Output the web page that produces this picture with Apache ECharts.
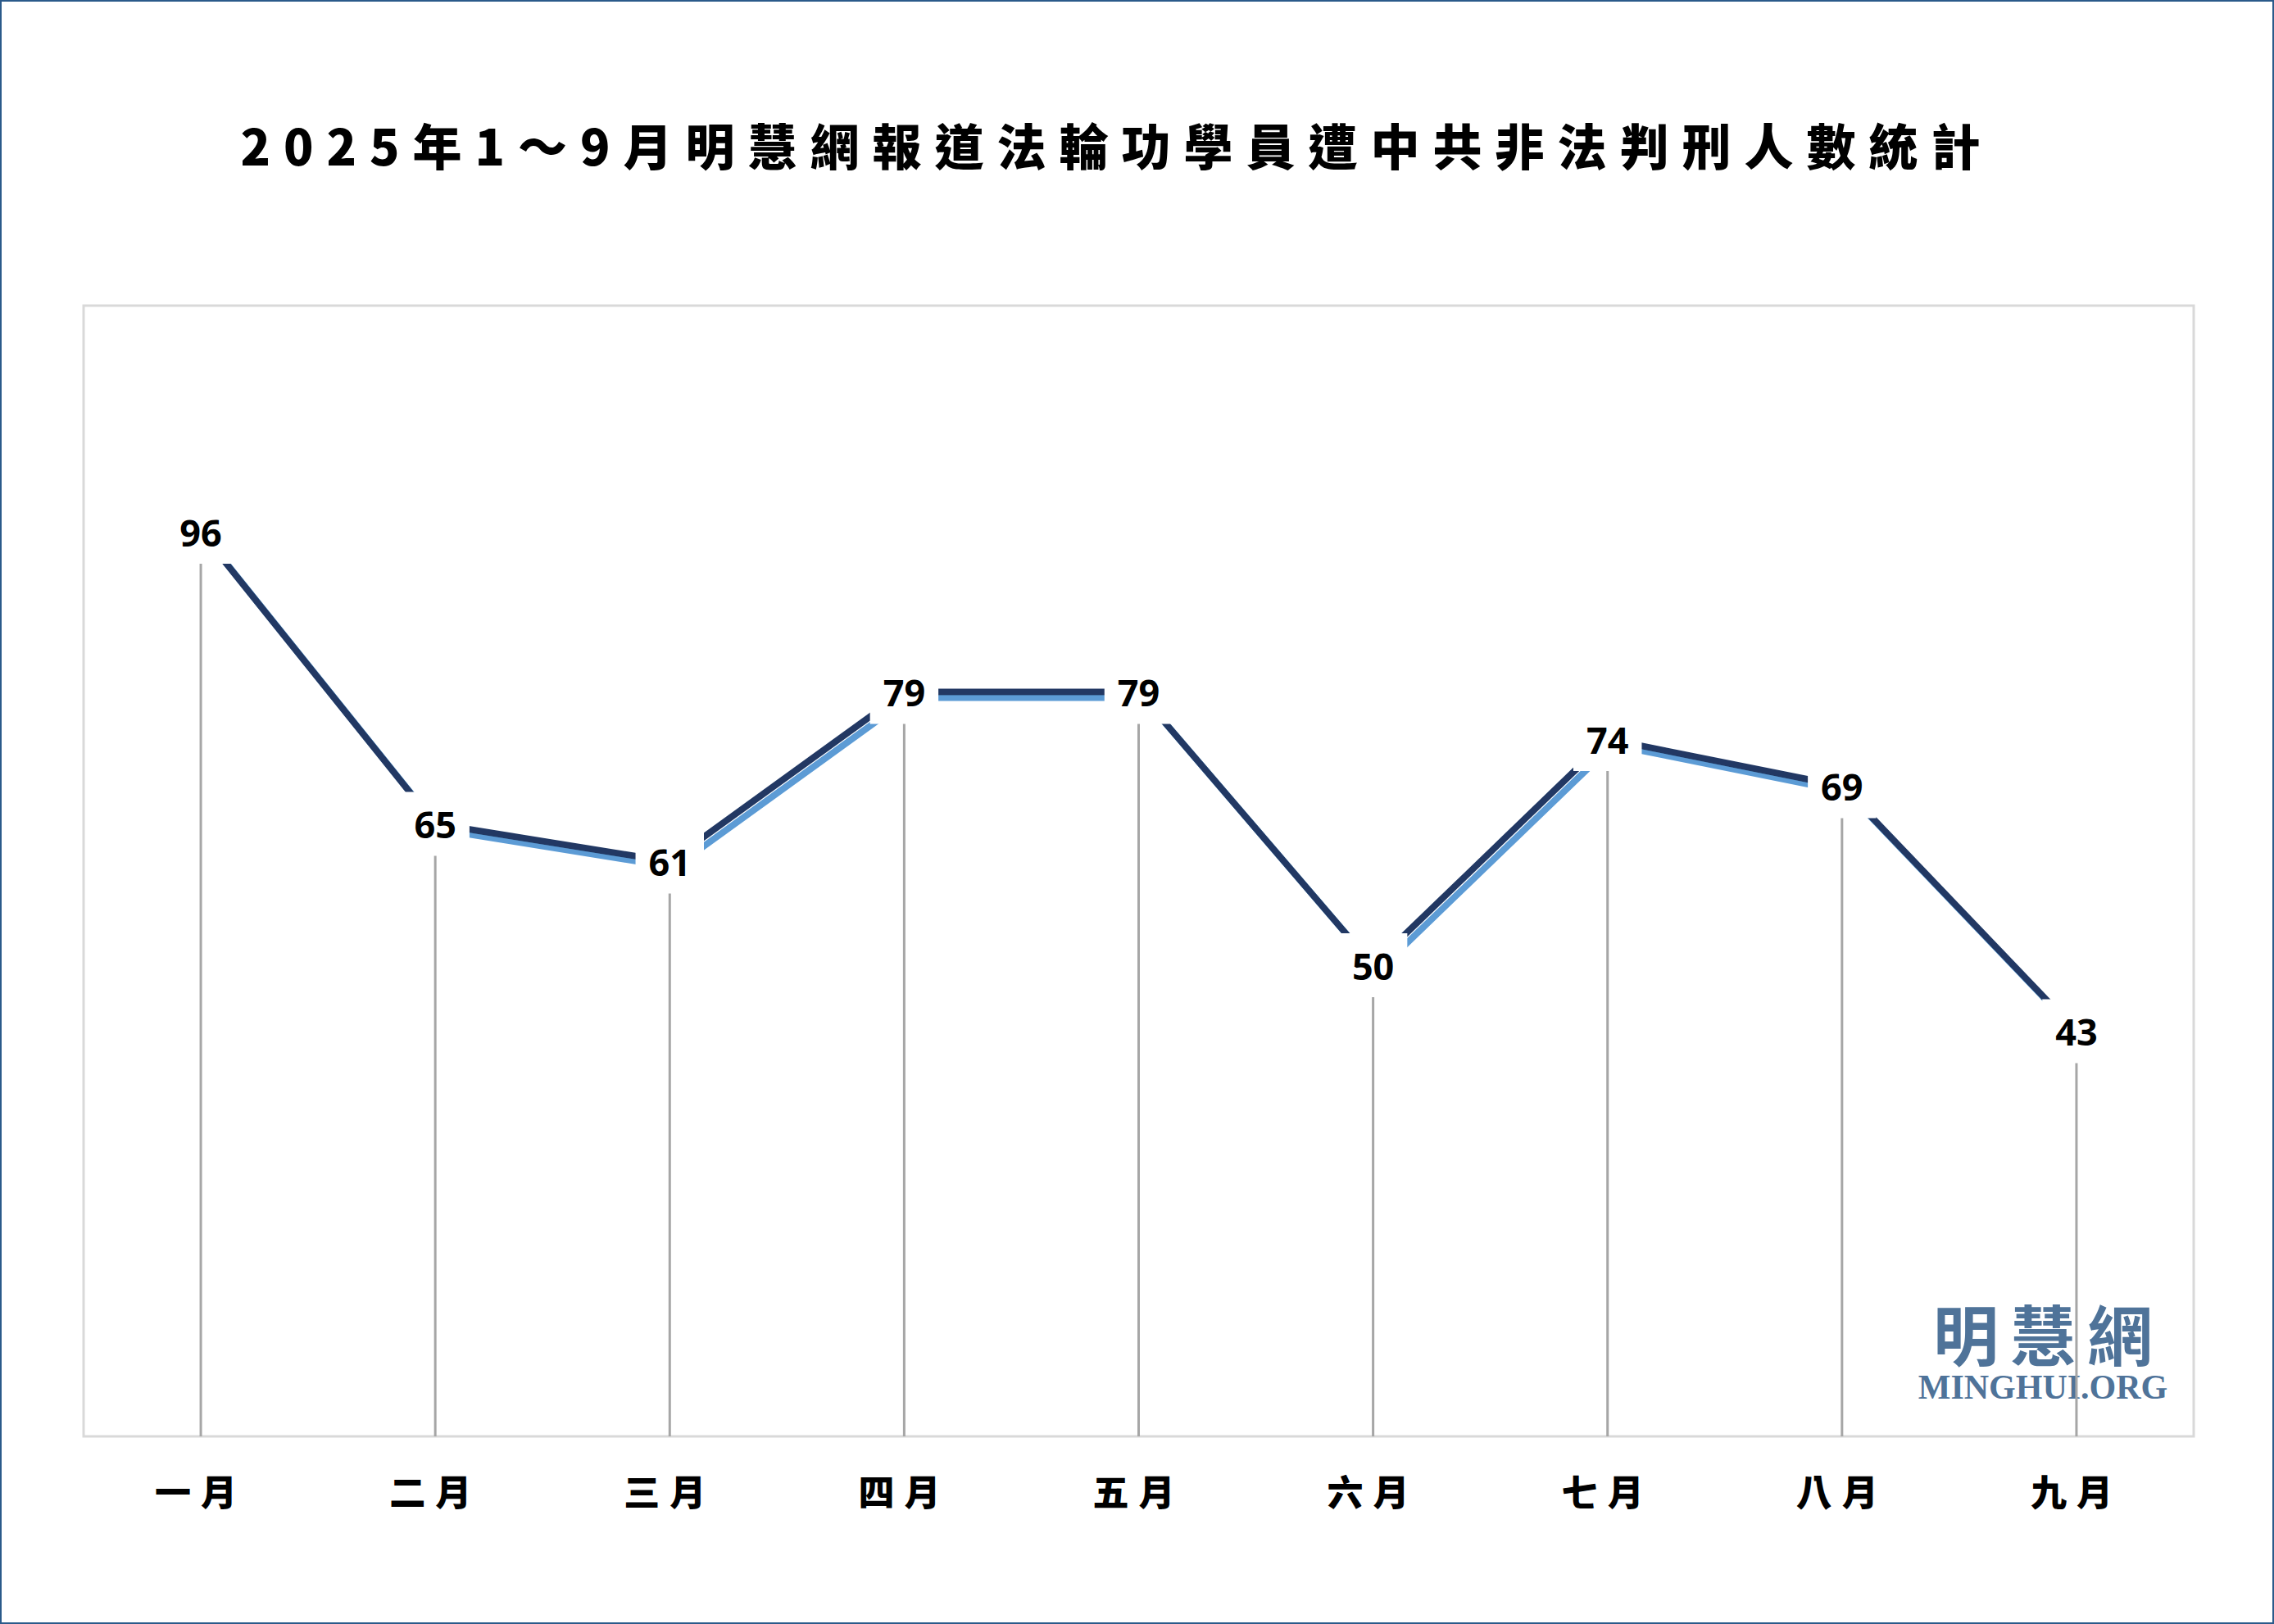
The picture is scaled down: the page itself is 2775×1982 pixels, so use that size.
<!DOCTYPE html>
<html>
<head>
<meta charset="utf-8">
<script src="https://cdn.jsdelivr.net/npm/echarts@6/dist/echarts.min.js"></script>
<style>
html, body { margin: 0; padding: 0; background: #ffffff; }
#chart { width: 2775px; height: 1982px; }
#chart text[style*="60px"] { letter-spacing: 16px; }
#chart text[style*="44px"] { letter-spacing: 12px; }
#chart text[style*="80px"] { letter-spacing: 14px; }
</style>
</head>
<body>
<div id="chart"></div>
<script>
// ---- data ----
const titleText = '2025年1～9月明慧網報道法輪功學員遭中共非法判刑人數統計';
const months = ['一月', '二月', '三月', '四月', '五月', '六月', '七月', '八月', '九月'];
const sentenced = [96, 65, 61, 79, 79, 50, 74, 69, 43];
const yMin = 0;
const yMax = 120;
const watermarkCn = '明慧網';
const watermarkEn = 'MINGHUI.ORG';

const cjkFont = '"Noto Sans CJK TC", "Noto Sans CJK SC", sans-serif';

const chart = echarts.init(document.getElementById('chart'), null, { renderer: 'svg' });
chart.setOption({
  animation: false,
  backgroundColor: '#ffffff',
  title: {
    text: titleText,
    left: 1363,
    top: 145,
    padding: 0,
    textAlign: 'center',
    textStyle: { fontFamily: cjkFont, fontSize: 60, fontWeight: 900, color: '#000000' }
  },
  grid: {
    left: 102, right: 98, top: 373, bottom: 229,
    show: true, borderColor: '#d9d9d9', borderWidth: 3,
    backgroundColor: 'transparent',
    containLabel: false, outerBoundsMode: 'none'
  },
  xAxis: {
    type: 'category',
    data: months,
    boundaryGap: true,
    axisLine: { show: false },
    axisTick: { show: false },
    splitLine: { show: false },
    axisLabel: {
      interval: 0, margin: 44,
      fontFamily: cjkFont, fontSize: 44, fontWeight: 900, color: '#000000'
    }
  },
  yAxis: {
    type: 'value', min: yMin, max: yMax, show: false,
    splitLine: { show: false }
  },
  graphic: [
    {
      type: 'text', x: 2500, y: 1625, z: 0, silent: true,
      style: {
        text: watermarkCn, fontFamily: cjkFont, fontSize: 80, fontWeight: 'bold', lineHeight: 72,
        fill: '#4f7399', align: 'center', verticalAlign: 'middle',
        textAlign: 'center', textVerticalAlign: 'middle'
      }
    },
    {
      type: 'text', x: 2493, y: 1693, z: 0, silent: true,
      style: {
        text: watermarkEn, fontFamily: '"Liberation Serif", serif', fontSize: 42, fontWeight: 'bold', lineHeight: 32,
        fill: '#4f7399', align: 'center', verticalAlign: 'middle',
        textAlign: 'center', textVerticalAlign: 'middle'
      }
    },
    {
      type: 'rect', z: 100, silent: true,
      shape: { x: 1, y: 1, width: 2773, height: 1980 },
      style: { fill: 'none', stroke: '#2b5a8a', lineWidth: 2 }
    }
  ],
  series: [
    {
      type: 'bar',
      data: sentenced,
      barWidth: 3,
      itemStyle: { color: '#a6a6a6' },
      silent: true,
      z: 1
    },
    {
      type: 'line',
      data: sentenced,
      symbol: 'circle',
      symbolSize: 1,
      itemStyle: { color: 'rgba(0,0,0,0)' },
      lineStyle: {
        color: '#203864', width: 8,
        shadowColor: '#5b9bd5', shadowOffsetX: 6, shadowOffsetY: 7, shadowBlur: 0
      },
      label: {
        show: true,
        position: 'inside',
        fontFamily: '"Open Sans", sans-serif',
        fontWeight: 700,
        fontSize: 45,
        lineHeight: 46,
        color: '#000000',
        backgroundColor: '#ffffff',
        padding: [16, 16]
      },
      emphasis: { disabled: true },
      silent: true,
      z: 3
    }
  ]
});
</script>
</body>
</html>
